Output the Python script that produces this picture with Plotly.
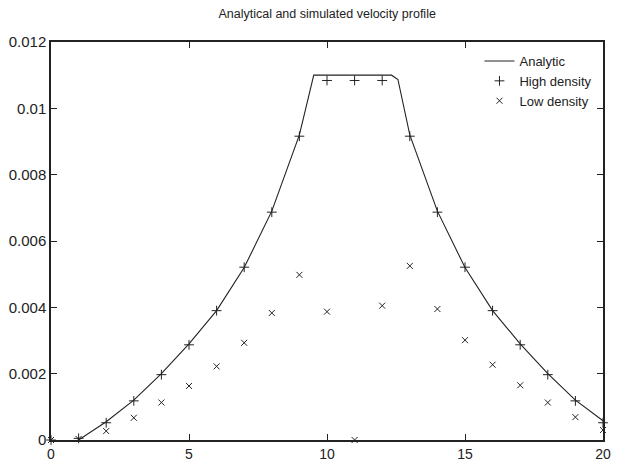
import plotly.graph_objects as go

# Analytic profile
analytic_x = [1, 2, 3, 4, 5, 6, 7, 8, 9, 9.52, 12.34, 12.57, 13, 14, 15, 16, 17, 18, 19, 20]
analytic_y = [0.0, 0.00055, 0.0012, 0.002, 0.0029, 0.0039, 0.0052, 0.0069, 0.0092, 0.011,
              0.011, 0.01087, 0.0092, 0.0069, 0.0052, 0.0039, 0.0029, 0.002, 0.0012, 0.00058]

# Simulated points
sim_x = list(range(0, 21))
high_density = [0.0, 0.00005, 0.00052, 0.00118, 0.00197, 0.00287, 0.0039, 0.00521, 0.00687,
                0.00916, 0.01084, 0.01084, 0.01084, 0.00916, 0.00687, 0.00521, 0.0039,
                0.00287, 0.00197, 0.00118, 0.00052]
low_density = [0.0, 0.00003, 0.00027, 0.00067, 0.00113, 0.00163, 0.00222, 0.00293, 0.00383,
               0.00498, 0.00387, 0.0, 0.00405, 0.00525, 0.00395, 0.00301, 0.00227, 0.00165,
               0.00113, 0.00069, 0.00030]

x_ticks = [0, 5, 10, 15, 20]
y_ticks = [0, 0.002, 0.004, 0.006, 0.008, 0.01, 0.012]
y_tick_text = ["0", "0.002", "0.004", "0.006", "0.008", "0.01", "0.012"]

FONT = "Liberation Sans, Arial, sans-serif"
INK = "#222222"

fig = go.Figure()
fig.add_trace(go.Scatter(x=analytic_x, y=analytic_y, mode="lines", name="Analytic",
                         line=dict(color=INK, width=1.1), cliponaxis=False))
fig.add_trace(go.Scatter(x=sim_x, y=high_density, mode="markers", name="High density",
                         marker=dict(symbol="cross-thin", size=7,
                                     line=dict(color=INK, width=1)),
                         cliponaxis=False))
fig.add_trace(go.Scatter(x=sim_x, y=low_density, mode="markers", name="Low density",
                         marker=dict(symbol="x-thin", size=6,
                                     line=dict(color=INK, width=1)),
                         cliponaxis=False))

axis_common = dict(showgrid=False, zeroline=False, showline=True, linecolor=INK,
                   linewidth=1.5, mirror="ticks", ticks="inside", ticklen=6,
                   tickcolor=INK, tickwidth=1, automargin=False)

fig.update_layout(
    width=634, height=461,
    margin=dict(l=51, r=31, t=42, b=21),
    paper_bgcolor="white", plot_bgcolor="white",
    title=dict(text="Analytical and simulated velocity profile", x=0.516, xanchor="center",
               y=0.97, yanchor="middle",
               font=dict(family=FONT, size=12.5, color=INK)),
    xaxis=dict(range=[0, 20], tickvals=x_ticks, ticklabelstandoff=0,
               tickfont=dict(family=FONT, size=14, color=INK), **axis_common),
    yaxis=dict(range=[0, 0.012], tickvals=y_ticks, ticktext=y_tick_text,
               tickfont=dict(family=FONT, size=15, color=INK), **axis_common),
    legend=dict(x=0.99, y=0.99, xanchor="right", yanchor="top", bgcolor="rgba(0,0,0,0)",
                font=dict(family=FONT, size=13, color=INK),
                tracegroupgap=0, itemwidth=30),
    showlegend=True,
)

fig.write_html("out.html", config={"displayModeBar": False},
               post_script="document.body.style.margin='0';document.body.style.overflow='hidden';")
